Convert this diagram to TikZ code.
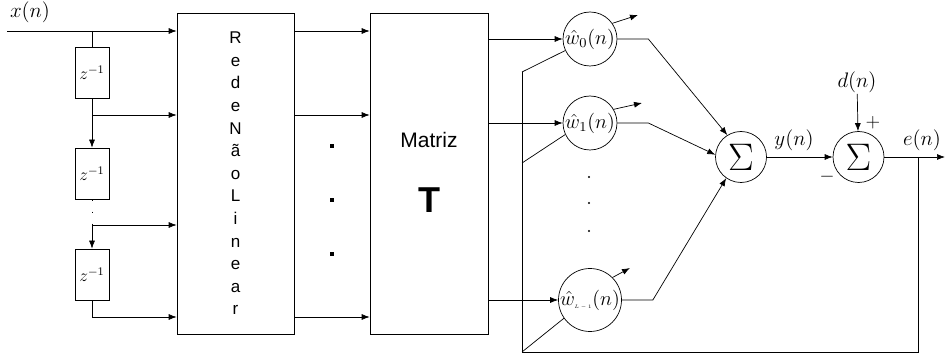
\RequirePackage{fix-cm}
\documentclass[tikz,border=0pt]{standalone}
\usepackage{amsmath,amssymb}
\usepackage{graphicx}
\usepackage{fontspec}
\setsansfont{Liberation Sans}
\usetikzlibrary{arrows,arrows.meta,calc}
\tikzset{
	block/.style={draw, inner sep=0pt},
	delay/.style={block, minimum width=34, minimum height=51, font=\fontsize{12}{14}\selectfont},
	weight/.style={circle, draw, minimum size=54, inner sep=0pt, font=\fontsize{12}{14}\selectfont},
	adder/.style={circle, draw, minimum size=51, inner sep=0pt, font=\fontsize{24}{26}\selectfont},
	lbl/.style={font=\fontsize{12}{14}\selectfont, inner sep=1pt}
}
\newcommand{\mtext}[2]{\scalebox{#1}{$#2$}}
\newcommand{\bigsum}{\scalebox{1.6}{$\Sigma$}}

\begin{document}
\begin{tikzpicture}[x=1pt, y=-1pt, line width=0.7pt, >={Latex[length=8pt,width=6pt]}]
	\useasboundingbox (0,0) rectangle (946,358);

		% Tapped delay line
		\node[lbl] (xlab) at (30,12) {\mtext{1.75}{x(n)}};
		\coordinate (xin) at (7,31);
		\node[delay] (z1) at (92,72.5) {\mtext{1.45}{z^{-1}}};
		\node[delay] (z2) at (92,173.5) {\mtext{1.45}{z^{-1}}};
		\node[delay] (z3) at (92,274.5) {\mtext{1.45}{z^{-1}}};
		\coordinate (tap1) at (92,115);
		\coordinate (tap2) at (92,225);
		\coordinate (tap3) at (92,317);

		% Nonlinear network and matrix
		\node[block, minimum width=117, minimum height=321, align=center, font=\sffamily\fontsize{17}{22.6}\selectfont] (rede) at (235.5,173.5) {R\\e\\d\\e\\N\\ã\\o\\L\\i\\n\\e\\a\\r};
		\node[block, minimum width=118, minimum height=321] (matriz) at (429,173.5) {};
		\node[font=\sffamily\fontsize{21}{24}\selectfont] (mtxt) at (429,139.5) {Matriz};
		\node[font=\sffamily\bfseries\fontsize{36}{40}\selectfont] (ttxt) at (429,200) {T};

		\draw[->] (xin) -- (rede.west |- xin);
		\draw (z1.north |- xin) -- (z1.north);
		\draw[->] (z1.south) -- (z2.north);
		\draw[->] (tap1) -- (rede.west |- tap1);
		\draw[line width=1pt, dash pattern=on 1.2pt off 11pt] (z2.south) -- (tap2);
		\draw[->] (tap2) -- (rede.west |- tap2);
		\draw[->] (tap2) -- (z3.north);
		\draw[->] (z3.south) |- (rede.west |- tap3);

		\draw[->] (rede.east |- xin) -- (matriz.west |- xin);
		\draw[->] (rede.east |- tap1) -- (matriz.west |- tap1);
		\draw[->] (rede.east |- tap3) -- (matriz.west |- tap3);
		\foreach \y in {146,200,254}
			\fill (332,\y) ++(-2,-2) rectangle ++(4,4);

		% Adaptive weights
		\node[weight] (w0) at (590,39) {\mtext{1.7}{\hat{w}_0(n)}};
		\node[weight] (w1) at (590,123) {\mtext{1.7}{\hat{w}_1(n)}};
		\node[weight] (wL) at (590,300) {\mtext{1.7}{\hat{w}_{\mbox{\fontsize{3}{4}\selectfont$L-1$}}(n)}};
		\foreach \y in {177,203,231}
			\fill (589,\y) circle (1.2);

		\draw[->] (matriz.east |- w0) -- (w0);
		\draw[->] (matriz.east |- w1) -- (w1);
		\draw[->] (matriz.east |- wL) -- (wL);
		\draw[->] (w0.35) -- (638,15);
		\draw[->] (w1.30) -- (642,103);
		\draw[->] (wL.45) -- (630,268);

		% Summing junctions
		\node[adder] (s1) at (741,157) {\bigsum};
		\node[adder] (s2) at (858.5,157) {\bigsum};
		\draw[->] (w0.east) -- ++(31,0) -- (s1.122);
		\draw[->] (w1.east) -- ++(31,0) -- (s1.175);
		\draw[->] (wL.east) -- ++(31,0) -- (s1.235);
		\draw[->] (s1) -- (s2);
		\node[lbl] (ylab) at (794,140) {\mtext{1.75}{y(n)}};
		\node[lbl] (dlab) at (857,82) {\mtext{1.75}{d(n)}};
		\draw[->] (dlab) -- (s2);
		\node[lbl] (plus) at (873,123) {\mtext{1.6}{+}};
		\node[lbl] (minus) at (827,177) {\mtext{1.6}{-}};
		\coordinate (eout) at (945,157);
		\coordinate (etap) at (918,157);
		\draw[->] (s2) -- (eout);
		\node[lbl] (elab) at (922,140) {\mtext{1.75}{e(n)}};

		% Error feedback
		\coordinate (fb0) at (522,72);
		\coordinate (fb1) at (522,163);
		\coordinate (fb2) at (522,352);
		\draw (etap) |- (fb2) -- (fb0);
		\draw (fb0) -- (w0.205);
		\draw (fb1) -- (w1.205);
		\draw (fb2) -- (wL.215);
	\end{tikzpicture}
\end{document}
